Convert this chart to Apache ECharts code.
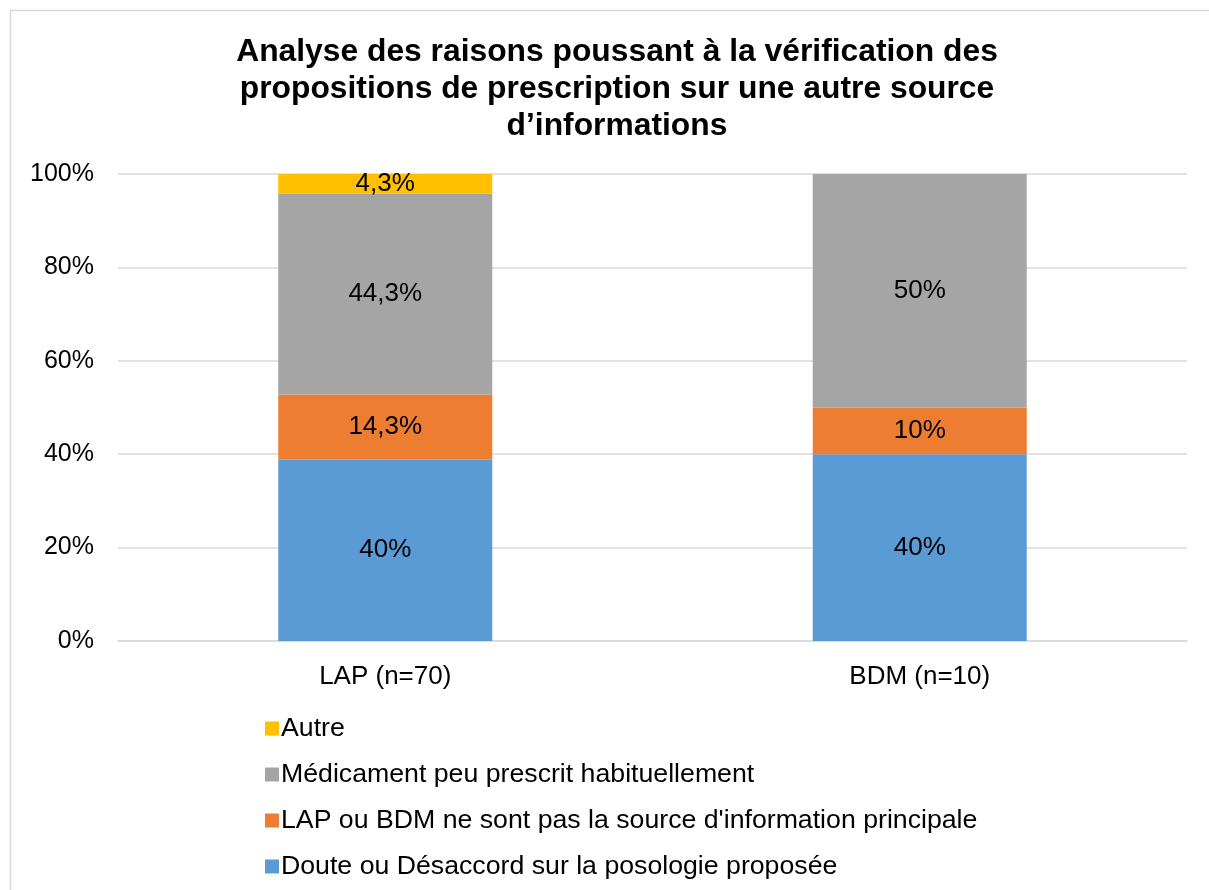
<!DOCTYPE html>
<html>
<head>
<meta charset="utf-8">
<script src="https://cdn.jsdelivr.net/npm/echarts@6/dist/echarts.min.js"></script>
<style>
  html, body { margin: 0; padding: 0; background: #fff; }
  #chart { width: 1209px; height: 890px; }
</style>
</head>
<body>
<div id="chart"></div>
<script>
const categories = ['LAP (n=70)', 'BDM (n=10)'];
const seriesNames = [
    'Doute ou Désaccord sur la posologie proposée',
    "LAP ou BDM ne sont pas la source d'information principale",
    'Médicament peu prescrit habituellement',
    'Autre'
];
const colors = ['#5B9BD5', '#ED7D31', '#A5A5A5', '#FFC000'];
// valeurs affichées (%) par série, une valeur par catégorie
const doute = [40, 40];
const sourcePrincipale = [14.3, 10];
const peuPrescrit = [44.3, 50];
const autre = [4.3, 0];
const yTicks = [0, 20, 40, 60, 80, 100];

const values = [doute, sourcePrincipale, peuPrescrit, autre];
// 100% empilé : chaque barre est ramenée à 100
const totals = categories.map((c, i) => values.reduce((s, v) => s + v[i], 0));
const fmt = v => String(v).replace('.', ',') + '%';

const chart = echarts.init(document.getElementById('chart'));
const font = 'Liberation Sans, Arial, sans-serif';

chart.setOption({
    animation: false,
    textStyle: { fontFamily: font },
    graphic: [{
        type: 'rect',
        shape: { x: 10.5, y: 10.5, width: 1220, height: 900 },
        style: { fill: 'none', stroke: '#D9D9D9', lineWidth: 1.5 },
        silent: true
    }],
    title: {
        text: 'Analyse des raisons poussant à la vérification des\npropositions de prescription sur une autre source\nd\u2019informations',
        left: 612,
        top: 29,
        textAlign: 'center',
        textStyle: {
            fontFamily: font,
            fontSize: 31.8,
            fontWeight: 'bold',
            color: '#000',
            lineHeight: 37
        }
    },
    legend: {
        orient: 'vertical',
        left: 260,
        top: 710,
        itemWidth: 14,
        itemHeight: 14,
        itemGap: 19,
        icon: 'rect',
        data: seriesNames.slice().reverse(),
        textStyle: { fontFamily: font, fontSize: 26.7, color: '#000', lineHeight: 26, padding: [0, 0, 0, -3] }
    },
    grid: { left: 118, right: 22, top: 174, bottom: 249 },
    xAxis: {
        type: 'category',
        data: categories,
        axisLine: { lineStyle: { color: '#D9D9D9', width: 1.5 } },
        axisTick: { show: false },
        axisLabel: { fontSize: 26, color: '#000', margin: 23 }
    },
    yAxis: {
        type: 'value',
        min: yTicks[0],
        max: yTicks[yTicks.length - 1],
        interval: 20,
        axisLine: { show: false },
        axisTick: { show: false },
        splitLine: { lineStyle: { color: '#D9D9D9', width: 1.5 } },
        axisLabel: { fontSize: 25, color: '#000', margin: 24, formatter: '{value}%' }
    },
    series: seriesNames.map((name, k) => ({
        name: name,
        type: 'bar',
        stack: 'total',
        barWidth: 214,
        itemStyle: { color: colors[k] },
        label: {
            show: true,
            position: 'inside',
            fontSize: 26,
            color: '#000',
            fontFamily: font,
            formatter: p => values[k][p.dataIndex] ? fmt(values[k][p.dataIndex]) : ''
        },
        data: values[k].map((v, i) => v / totals[i] * 100)
    }))
});
</script>
</body>
</html>
